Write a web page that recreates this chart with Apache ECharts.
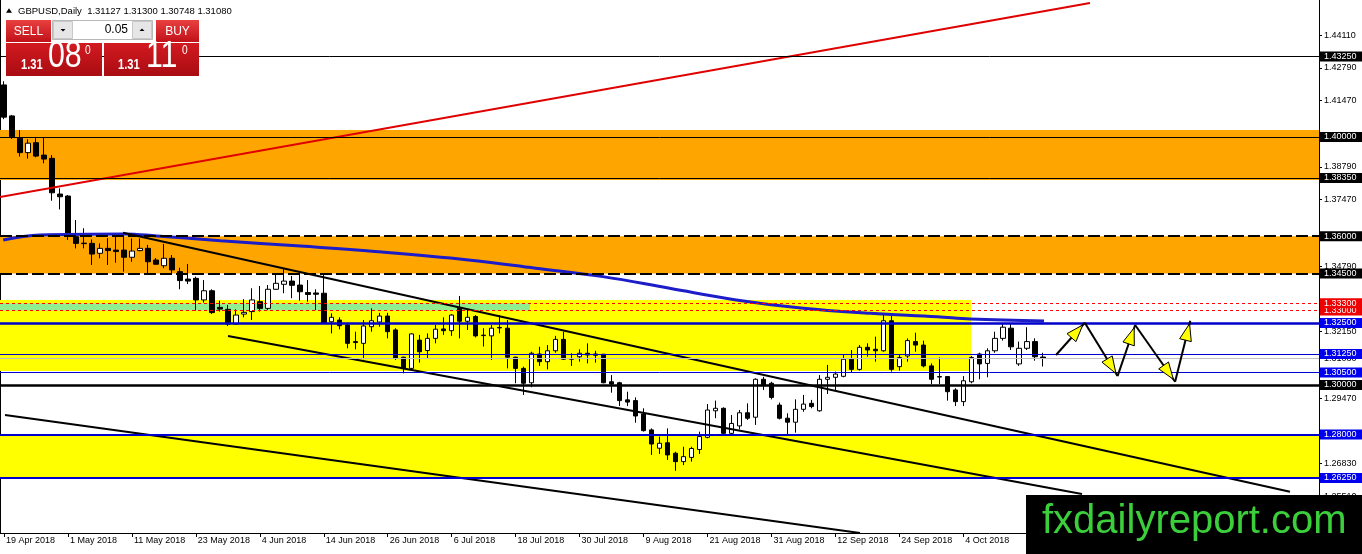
<!DOCTYPE html>
<html><head><meta charset="utf-8">
<script src="https://cdn.jsdelivr.net/npm/echarts@6/dist/echarts.min.js"></script>
<style>html,body{margin:0;padding:0;background:#fff;}#c{width:1362px;height:554px;}</style>
</head><body><div id="c"></div>
<script>
// ---- candle data (GBPUSD daily, from 19 Apr 2018) ----
const openP=[1.4210,1.4085,1.3995,1.3937,1.3977,1.3927,1.3914,1.3770,1.3762,1.3598,
1.3572,1.3571,1.3531,1.3551,1.3544,1.3544,1.3515,1.3542,1.3551,1.3504,
1.3481,1.3511,1.3457,1.3427,1.3430,1.3343,1.3380,1.3313,1.3305,1.3246,
1.3286,1.3296,1.3336,1.3309,1.3386,1.3406,1.3419,1.3403,1.3373,1.3371,
1.3370,1.3255,1.3262,1.3242,1.3175,1.3168,1.3235,1.3254,1.3278,1.3222,
1.3112,1.3067,1.3181,1.3139,1.3188,1.3226,1.3219,1.3309,1.3257,1.3276,
1.3201,1.3198,1.3232,1.3229,1.3112,1.3067,1.3009,1.3125,1.3094,1.3138,
1.3184,1.3104,1.3114,1.3128,1.3125,1.3124,1.3013,1.3009,1.2940,1.2937,
1.2883,1.2819,1.2745,1.2767,1.2725,1.2691,1.2708,1.2740,1.2789,1.2896,
1.2906,1.2805,1.2835,1.2888,1.2870,1.3023,1.3007,1.2919,1.2866,1.2850,
1.2902,1.2926,1.2896,1.3023,1.3031,1.3035,1.3104,1.3063,1.3152,1.3144,
1.3138,1.3259,1.3074,1.3117,1.3175,1.3161,1.3077,1.3034,1.3034,1.2980,
1.2933,1.3013,1.3125,1.3087,1.3138,1.3188,1.3229,1.3085,1.3148,1.3175,
1.31127];
const closeP=[1.4080,1.4001,1.3937,1.3975,1.3923,1.3911,1.3775,1.3759,1.3609,1.3571,
1.3570,1.3528,1.3551,1.3542,1.3538,1.3515,1.3540,1.3551,1.3497,1.3487,
1.3511,1.3464,1.3421,1.3419,1.3343,1.3380,1.3292,1.3306,1.3246,1.3282,
1.3293,1.3343,1.3309,1.3386,1.3410,1.3419,1.3402,1.3376,1.3365,1.3366,
1.3251,1.3273,1.3239,1.3168,1.3171,1.3238,1.3259,1.3278,1.3215,1.3108,
1.3067,1.3206,1.3134,1.3188,1.3225,1.3219,1.3282,1.3257,1.3273,1.3198,
1.3199,1.3229,1.3230,1.3112,1.3067,1.3007,1.3128,1.3094,1.3138,1.3184,
1.3104,1.3106,1.3128,1.3121,1.3120,1.3009,1.3004,1.2937,1.2931,1.2875,
1.2816,1.2762,1.2765,1.2718,1.2691,1.2711,1.2744,1.2792,1.2899,1.2906,
1.2805,1.2845,1.2888,1.2866,1.3023,1.3000,1.2950,1.2866,1.2850,1.2902,
1.2923,1.2913,1.3023,1.3031,1.3044,1.3104,1.3063,1.3152,1.3141,1.3138,
1.3259,1.3063,1.3111,1.3179,1.3161,1.3077,1.3023,1.3032,1.2973,1.2933,
1.3017,1.3111,1.3085,1.3138,1.3188,1.3233,1.3154,1.3148,1.3175,1.3114,
1.31080];
const lowP=[1.4072,1.3992,1.3921,1.3913,1.3918,1.3894,1.3743,1.3708,1.3585,1.3551,
1.3551,1.3484,1.3511,1.3484,1.3493,1.3457,1.3497,1.3539,1.3448,1.3484,
1.3471,1.3448,1.3386,1.3407,1.3300,1.3332,1.3286,1.3296,1.3238,1.3242,
1.3273,1.3262,1.3296,1.3302,1.3383,1.3370,1.3350,1.3340,1.3336,1.3302,
1.3249,1.3208,1.3224,1.3148,1.3144,1.3104,1.3215,1.3235,1.3188,1.3101,
1.3047,1.3060,1.3090,1.3108,1.3168,1.3202,1.3198,1.3188,1.3222,1.3192,
1.3155,1.3101,1.3208,1.3067,1.3007,1.2960,1.2991,1.3077,1.3063,1.3130,
1.3101,1.3077,1.3094,1.3087,1.3090,1.3007,1.2969,1.2915,1.2915,1.2848,
1.2812,1.2718,1.2722,1.2698,1.2654,1.2677,1.2691,1.2722,1.2785,1.2866,
1.2802,1.2802,1.2821,1.2859,1.2839,1.2980,1.2942,1.2861,1.2798,1.2808,
1.2892,1.2906,1.2892,1.2964,1.2977,1.3031,1.3050,1.3058,1.3114,1.3094,
1.3134,1.3054,1.3058,1.3094,1.3134,1.3071,1.3004,1.3004,1.2937,1.2915,
1.2915,1.3007,1.3023,1.3031,1.3130,1.3179,1.3141,1.3077,1.3141,1.3098,
1.30748];
const highP=[1.4225,1.4089,1.4028,1.3991,1.3995,1.3999,1.3927,1.3793,1.3766,1.3665,
1.3632,1.3587,1.3571,1.3592,1.3600,1.3614,1.3591,1.3591,1.3565,1.3512,
1.3569,1.3524,1.3473,1.3488,1.3437,1.3423,1.3386,1.3340,1.3323,1.3305,
1.3346,1.3390,1.3399,1.3403,1.3444,1.3467,1.3440,1.3444,1.3423,1.3386,
1.3444,1.3289,1.3273,1.3249,1.3215,1.3262,1.3309,1.3291,1.3291,1.3229,
1.3114,1.3208,1.3202,1.3208,1.3242,1.3273,1.3286,1.3359,1.3302,1.3282,
1.3229,1.3242,1.3282,1.3262,1.3114,1.3074,1.3134,1.3154,1.3161,1.3198,
1.3215,1.3128,1.3144,1.3168,1.3138,1.3125,1.3040,1.3013,1.2973,1.2950,
1.2906,1.2825,1.2792,1.2825,1.2731,1.2751,1.2751,1.2812,1.2923,1.2937,
1.2910,1.2879,1.2899,1.2926,1.3027,1.3033,1.3013,1.2929,1.2886,1.2942,
1.2960,1.2940,1.3040,1.3081,1.3054,1.3121,1.3141,1.3161,1.3168,1.3195,
1.3282,1.3282,1.3121,1.3188,1.3211,1.3179,1.3087,1.3111,1.3036,1.2987,
1.3036,1.3117,1.3130,1.3148,1.3215,1.3246,1.3246,1.3175,1.3233,1.3188,
1.31300];

// ---- axes ----
const slotCount=165;                 // daily slots shown across the chart
const yTickLabels=[1.44110,1.42790,1.41470,1.38790,1.37470,1.34790,1.32150,1.29470,1.26830,1.25510];
const yMin=1.24032, yMax=1.45524;

// ---- 200-day moving average (bar index, price) ----
const maIdx=[-0.1,4.5,15,19.1,27.1,37.1,46.4,58.1,66.5,74.9,83.25,91.6,100,108.4,116.75,120.9,130.1];
const maVal=[1.3585,1.3605,1.3609,1.3601,1.3582,1.3560,1.3538,1.3504,1.3471,1.3437,1.3390,1.3343,1.3309,1.3289,1.3275,1.3266,1.3258];

// ---- horizontal levels ----
const levelValues=[1.4325,1.4000,1.3835,1.3600,1.3450,1.3300,1.3330,1.3250,1.3125,1.3050,1.3000,1.2800,1.2625];
const levelKinds =['black','black','black','dash','dash','red','red','blueThick','blueThin','blueThin','blackThick','blueMid','blueMid'];
const bidPrice=1.31080;

// ---- zones (top, bottom, end bar index) ----
const zoneTop   =[1.4028,1.3600,1.3343,1.3330,1.2800];
const zoneBottom=[1.3827,1.3450,1.30565,1.3300,1.2625];
const zoneEnd   =[164.5,164.5,120.97,65.8,164.5];
const zoneKinds =['orange','orange','yellow','green','yellow'];

// ---- trend lines (bar index, price) ----
const redLineX=[-0.5,135.85],  redLineY=[1.37581,1.45403];
const upperLineX=[14.89,160.87], upperLineY=[1.36141,1.25694];
const lowerLineX=[28.02,134.85], lowerLineY=[1.31976,1.25605];
const bottomLineX=[0.125,107.08], bottomLineY=[1.28790,1.24032];

// ---- projected zigzag arrows ----
const arrowX=[131.6,135.2,139.3,141.5,146.5,148.4];
const arrowY=[1.3121,1.3251,1.3036,1.3242,1.3013,1.3259];

// ---- header / panel text ----
const headerText='GBPUSD,Daily  1.31127 1.31300 1.30748 1.31080';

// ================= build =================
const months=['Jan','Feb','Mar','Apr','May','Jun','Jul','Aug','Sep','Oct','Nov','Dec'];
const dates=[];
let d=new Date(Date.UTC(2018,3,19));
while(dates.length<slotCount){const wd=d.getUTCDay();if(wd!==0&&wd!==6)dates.push(d.getUTCDate()+' '+months[d.getUTCMonth()]+' '+d.getUTCFullYear());d=new Date(d.getTime()+86400000);}
const candles=openP.map((o,i)=>[o,closeP[i],lowP[i],highP[i]]);

const kindStyle={
 black:{line:{color:'#000',width:1,type:'solid'},box:'#000'},
 dash:{line:{color:'#000',width:2,type:[12,4]},box:'#000'},
 red:{line:{color:'#ff0000',width:1,type:[3,3]},box:'#ee0000'},
 blueThick:{line:{color:'#0000cd',width:2.5,type:'solid'},box:'#0000ee'},
 blueThin:{line:{color:'#0000cd',width:1,type:'solid'},box:'#0000ee'},
 blackThick:{line:{color:'#000',width:2.5,type:'solid'},box:'#000'},
 blueMid:{line:{color:'#0000cd',width:2,type:'solid'},box:'#0000ee'}
};
const zoneColor={orange:'#FFA500',yellow:'#FFFF00',green:'#90EE90'};
const FONT='"Liberation Sans", Arial, sans-serif';

function boxLabel(text,bg,fg){
 return {show:true,position:'end',distance:1,formatter:text,color:fg||'#fff',backgroundColor:bg,
  padding:[1,6,0,4],fontSize:9,lineHeight:9,fontFamily:FONT};
}
const levelData=levelValues.map((v,i)=>{
 const k=kindStyle[levelKinds[i]];
 return {yAxis:v,lineStyle:k.line,label:boxLabel(v.toFixed(5),k.box)};
});
const zoneData=zoneTop.map((t,i)=>[
 {xAxis:-0.5,yAxis:t,itemStyle:{color:zoneColor[zoneKinds[i]]}},
 {xAxis:zoneEnd[i],yAxis:zoneBottom[i]}
]);
function seg(xs,ys){return xs.map((x,i)=>[x,ys[i]]);}
function trend(xs,ys,color,width){
 return {type:'line',xAxisIndex:1,yAxisIndex:0,data:seg(xs,ys),symbol:'none',silent:true,z:4,
  lineStyle:{color:color,width:width},animation:false,clip:true};
}
const arrowSegs=[];
for(let i=0;i<arrowX.length-1;i++)arrowSegs.push([arrowX[i],arrowY[i],arrowX[i+1],arrowY[i+1]]);

const chart=echarts.init(document.getElementById('c'),null,{renderer:'canvas'});
const redGrad=()=>new echarts.graphic.LinearGradient(0,0,0,1,[{offset:0,color:'#e8403f'},{offset:1,color:'#c1111a'}]);
const boxGrad=()=>new echarts.graphic.LinearGradient(0,0,0,1,[{offset:0,color:'#d21a20'},{offset:1,color:'#a80c12'}]);
function priceText(x,y,txt,font,sx){
 return {type:'text',z:101,x:x,y:y,scaleX:sx,scaleY:1,style:{text:txt,fill:'#fff',font:font,verticalAlign:'middle'}};
}

chart.setOption({
 animation:false,
 backgroundColor:'#fff',
 grid:{left:0,right:43,top:0,bottom:21,containLabel:false},
 xAxis:[
  {type:'category',data:dates,boundaryGap:true,
   axisLine:{show:true,onZero:false,lineStyle:{color:'#000',width:1}},
   axisTick:{show:true,alignWithLabel:true,interval:(i)=>i%8===0,length:4,lineStyle:{color:'#000'}},
   axisLabel:{interval:(i)=>i%8===0,align:'left',color:'#000',fontSize:9,fontFamily:FONT,margin:3,padding:[0,0,0,2]},
   splitLine:{show:false}},
  {type:'value',min:-0.5,max:slotCount-0.5,show:false,axisLine:{onZero:false}}
 ],
 yAxis:[
  {type:'value',position:'right',min:yMin,max:yMax,
   axisLine:{show:true,onZero:false,lineStyle:{color:'#000',width:1}},
   axisTick:{show:true,customValues:yTickLabels,length:3,lineStyle:{color:'#000'}},
   axisLabel:{customValues:yTickLabels,formatter:(v)=>v.toFixed(5),color:'#000',fontSize:9,fontFamily:FONT,margin:5},
   splitLine:{show:false}},
  {type:'value',position:'left',min:yMin,max:yMax,
   axisLine:{show:true,onZero:false,lineStyle:{color:'#000',width:1}},
   axisTick:{show:false},axisLabel:{show:false},splitLine:{show:false}}
 ],
 series:[
  {type:'line',xAxisIndex:1,yAxisIndex:0,data:[],silent:true,z:1,clip:false,
   markArea:{silent:true,data:zoneData}},
  {type:'line',xAxisIndex:1,yAxisIndex:0,data:[],silent:true,z:2,clip:false,
   markLine:{silent:true,symbol:['none','none'],precision:5,animation:false,
    data:[{yAxis:bidPrice,lineStyle:{color:'#c0c0c0',width:1,type:'solid'},label:boxLabel(bidPrice.toFixed(5),'#fff','#000')}]}},
  {type:'line',xAxisIndex:1,yAxisIndex:0,data:[],silent:true,z:2,clip:false,
   markLine:{silent:true,symbol:['none','none'],precision:5,animation:false,data:levelData}},
  {type:'candlestick',xAxisIndex:0,yAxisIndex:0,data:candles,barWidth:5,z:3,silent:true,
   itemStyle:{color:'#fff',color0:'#000',borderColor:'#000',borderColor0:'#000',borderWidth:1}},
  {type:'line',xAxisIndex:1,yAxisIndex:0,data:seg(maIdx,maVal),symbol:'none',smooth:0.4,silent:true,z:4,
   lineStyle:{color:'#1c1cc8',width:3}},
  trend(redLineX,redLineY,'#e00000',2),
  trend(upperLineX,upperLineY,'#000',2),
  trend(lowerLineX,lowerLineY,'#000',2),
  trend(bottomLineX,bottomLineY,'#000',2),
  {type:'custom',xAxisIndex:1,yAxisIndex:0,data:arrowSegs,z:6,silent:true,clip:false,
   encode:{x:[0,2],y:[1,3]},
   renderItem:(params,api)=>{
    const p1=api.coord([api.value(0),api.value(1)]),p2=api.coord([api.value(2),api.value(3)]);
    const dx=p2[0]-p1[0],dy=p2[1]-p1[1],len=Math.hypot(dx,dy),ux=dx/len,uy=dy/len;
    const tx=p2[0]-ux*3,ty=p2[1]-uy*3,L=17,W=6;
    const bx=tx-ux*L,by=ty-uy*L;
    return {type:'group',children:[
     {type:'line',shape:{x1:p1[0],y1:p1[1],x2:p2[0],y2:p2[1]},style:{stroke:'#000',lineWidth:2}},
     {type:'polygon',shape:{points:[[tx,ty],[bx-uy*W,by+ux*W],[bx+uy*W,by-ux*W]]},style:{fill:'#ffff00',stroke:'#000',lineWidth:1}}
    ]};
   }}
 ],
 graphic:[
  {type:'polygon',z:100,shape:{points:[[6,12.7],[12,12.7],[9,8.3]]},style:{fill:'#000'}},
  {type:'text',z:100,x:18,y:11,style:{text:headerText,fill:'#000',font:'9.5px '+FONT,verticalAlign:'middle'}},
  // SELL button
  {type:'rect',z:100,shape:{x:6,y:20,width:45,height:22},style:{fill:redGrad()}},
  {type:'text',z:101,x:28.5,y:31.5,style:{text:'SELL',fill:'#fff',font:'12px '+FONT,align:'center',verticalAlign:'middle'}},
  // lot spinner
  {type:'rect',z:100,shape:{x:52.5,y:20.5,width:100,height:19},style:{fill:'#fff',stroke:'#b8b8b8',lineWidth:1}},
  {type:'rect',z:101,shape:{x:53.5,y:21.5,width:19,height:17},style:{fill:'#e6e6e6',stroke:'#c8c8c8',lineWidth:1}},
  {type:'polygon',z:102,shape:{points:[[60.5,29],[65.5,29],[63,31.5]]},style:{fill:'#000'}},
  {type:'rect',z:101,shape:{x:132.5,y:21.5,width:19,height:17},style:{fill:'#e6e6e6',stroke:'#c8c8c8',lineWidth:1}},
  {type:'polygon',z:102,shape:{points:[[139.5,31],[144.5,31],[142,28.5]]},style:{fill:'#000'}},
  {type:'text',z:101,x:128,y:30,style:{text:'0.05',fill:'#000',font:'12px '+FONT,align:'right',verticalAlign:'middle'}},
  // BUY button
  {type:'rect',z:100,shape:{x:156,y:20,width:43,height:22},style:{fill:redGrad()}},
  {type:'text',z:101,x:177.5,y:31.5,style:{text:'BUY',fill:'#fff',font:'12px '+FONT,align:'center',verticalAlign:'middle'}},
  // price boxes
  {type:'rect',z:100,shape:{x:6,y:43,width:96,height:33},style:{fill:boxGrad()}},
  {type:'rect',z:100,shape:{x:104,y:43,width:95,height:33},style:{fill:boxGrad()}},
  priceText(21,65,'1.31','bold 14px '+FONT,0.8),
  priceText(48,57,'08','37px '+FONT,0.82),
  priceText(85,51,'0','12px '+FONT,0.85),
  priceText(118,65,'1.31','bold 14px '+FONT,0.8),
  priceText(146,57,'11','37px '+FONT,0.82),
  priceText(182,51,'0','12px '+FONT,0.85),
  // watermark
  {type:'rect',z:100,shape:{x:1026,y:495,width:336,height:59},style:{fill:'#000'}},
  {type:'text',z:101,x:1042,y:522,style:{text:'fxdailyreport.com',fill:'#3ccf3c',font:'40px '+FONT,verticalAlign:'middle'}}
 ]
});
</script></body></html>
